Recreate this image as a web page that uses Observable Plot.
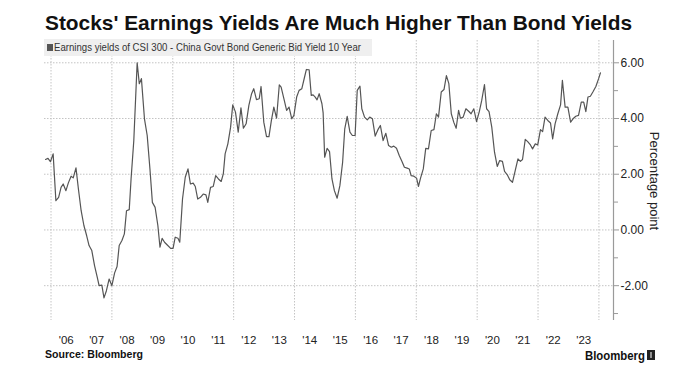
<!DOCTYPE html>
<html>
<head>
<meta charset="utf-8">
<script src="https://cdn.jsdelivr.net/npm/d3@7"></script>
<script src="https://cdn.jsdelivr.net/npm/@observablehq/plot@0.6"></script>
<style>
  html, body { margin: 0; padding: 0; background: #fff; }
  #wrap { position: relative; width: 690px; height: 384px; overflow: hidden; }
  #overlay { position: absolute; left: 0; top: 0; pointer-events: none; }
</style>
</head>
<body>
<div id="wrap"></div>
<script>
// Decimal-year dates of the series
const dates = [
  2005.82, 2005.90, 2005.98, 2006.07, 2006.16, 2006.25, 2006.33, 2006.40, 2006.49, 2006.57,
  2006.66, 2006.73, 2006.82, 2006.90, 2006.99, 2007.08, 2007.17, 2007.25, 2007.34, 2007.43,
  2007.52, 2007.58, 2007.67, 2007.74, 2007.82, 2007.91, 2008.00, 2008.09, 2008.17, 2008.24,
  2008.33, 2008.41, 2008.48, 2008.57, 2008.63, 2008.72, 2008.83, 2008.90, 2008.97, 2009.07,
  2009.16, 2009.25, 2009.33, 2009.42, 2009.51, 2009.58, 2009.65, 2009.73, 2009.82, 2009.93,
  2010.01, 2010.08, 2010.17, 2010.23, 2010.32, 2010.41, 2010.50, 2010.58, 2010.67, 2010.74,
  2010.82, 2010.91, 2011.00, 2011.09, 2011.15, 2011.24, 2011.33, 2011.41, 2011.50, 2011.59,
  2011.66, 2011.72, 2011.81, 2011.90, 2011.97, 2012.06, 2012.15, 2012.24, 2012.32, 2012.41,
  2012.50, 2012.59, 2012.66, 2012.75, 2012.84, 2012.90, 2012.99, 2013.08, 2013.16, 2013.24,
  2013.32, 2013.41, 2013.50, 2013.56, 2013.65, 2013.74, 2013.82, 2013.91, 2013.98, 2014.07,
  2014.15, 2014.24, 2014.33, 2014.39, 2014.48, 2014.55, 2014.61, 2014.68, 2014.74, 2014.81,
  2014.90, 2014.94, 2014.99, 2015.07, 2015.15, 2015.23, 2015.31, 2015.40, 2015.49, 2015.58,
  2015.65, 2015.73, 2015.82, 2015.90, 2015.99, 2016.06, 2016.15, 2016.21, 2016.30, 2016.39,
  2016.47, 2016.56, 2016.65, 2016.74, 2016.82, 2016.91, 2017.00, 2017.09, 2017.18, 2017.26,
  2017.35, 2017.44, 2017.53, 2017.61, 2017.70, 2017.77, 2017.83, 2017.92, 2018.01, 2018.07,
  2018.14, 2018.23, 2018.31, 2018.40, 2018.49, 2018.58, 2018.66, 2018.73, 2018.82, 2018.91,
  2018.99, 2019.07, 2019.15, 2019.23, 2019.31, 2019.39, 2019.45, 2019.54, 2019.63, 2019.72,
  2019.80, 2019.89, 2019.98, 2020.07, 2020.15, 2020.24, 2020.31, 2020.39, 2020.48, 2020.57,
  2020.66, 2020.74, 2020.83, 2020.90, 2020.99, 2021.07, 2021.16, 2021.25, 2021.34, 2021.42,
  2021.49, 2021.58, 2021.66, 2021.75, 2021.82, 2021.91, 2021.99, 2022.08, 2022.15, 2022.23,
  2022.32, 2022.41, 2022.48, 2022.56, 2022.65, 2022.74, 2022.80, 2022.89, 2022.98, 2023.07,
  2023.15, 2023.24, 2023.33, 2023.42, 2023.50, 2023.57, 2023.64, 2023.72, 2023.81, 2023.90,
  2023.99, 2024.05
];
// Earnings yield of CSI 300 minus China 10Y govt bond yield (percentage points)
const values = [
  2.53, 2.57, 2.45, 2.73, 1.05, 1.17, 1.53, 1.65, 1.41, 1.69,
  1.93, 1.87, 2.23, 1.47, 0.69, 0.16, -0.20, -0.56, -0.74, -1.28,
  -1.70, -2.00, -1.98, -2.44, -2.18, -1.76, -2.00, -1.54, -1.31, -0.56,
  -0.38, -0.14, 0.69, 0.73, 1.83, 3.21, 6.00, 5.25, 5.43, 3.99,
  3.39, 2.19, 0.99, 0.81, 0.16, -0.62, -0.30, -0.44, -0.54, -0.66,
  -0.66, -0.26, -0.30, -0.44, 1.11, 1.89, 2.19, 1.65, 1.68, 1.56,
  1.11, 1.17, 1.29, 1.26, 0.99, 1.53, 1.56, 1.95, 1.83, 1.74,
  2.01, 2.73, 3.09, 3.69, 4.49, 4.23, 3.51, 4.38, 3.65, 3.81,
  4.47, 4.89, 5.07, 4.68, 4.71, 5.15, 3.87, 3.35, 3.35, 3.93,
  4.41, 4.01, 5.21, 5.13, 4.71, 4.29, 4.41, 3.99, 4.11, 4.77,
  5.01, 5.07, 5.49, 5.76, 5.75, 4.83, 4.85, 4.77, 4.67, 4.89,
  4.53, 4.20, 2.61, 2.93, 2.81, 1.83, 1.41, 1.14, 1.59, 2.43,
  3.63, 4.08, 3.51, 3.39, 3.39, 5.01, 5.16, 4.35, 4.05, 3.95,
  4.05, 3.99, 3.37, 3.60, 3.75, 3.21, 3.47, 3.03, 2.97, 3.01,
  2.93, 2.67, 2.46, 2.25, 2.22, 2.19, 1.95, 1.93, 1.86, 1.56,
  1.86, 2.19, 2.93, 2.91, 3.57, 3.60, 4.17, 4.05, 4.95, 5.04,
  5.54, 5.25, 4.17, 3.87, 3.65, 4.29, 4.01, 4.05, 4.35, 4.26,
  4.17, 4.35, 3.89, 4.25, 4.65, 5.22, 4.35, 4.25, 3.69, 2.79,
  2.28, 2.49, 2.46, 2.10, 1.98, 1.80, 1.71, 2.13, 2.55, 2.46,
  2.53, 3.25, 3.17, 3.05, 2.91, 3.09, 3.05, 3.60, 3.53, 4.05,
  3.93, 3.84, 3.27, 3.81, 4.17, 4.49, 5.37, 4.41, 4.41, 3.87,
  3.99, 4.08, 4.11, 4.59, 4.59, 4.25, 4.77, 4.80, 4.97, 5.15,
  5.43, 5.64
];
// Axis ticks and labels
const labelYears = [2006,2007,2008,2009,2010,2011,2012,2013,2014,2015,2016,2017,2018,2019,2020,2021,2022,2023];
const yearLabels = ["'06","'07","'08","'09","'10","'11","'12","'13","'14","'15","'16","'17","'18","'19","'20","'21","'22","'23"];
const gridYears = [2006,2008,2010,2012,2014,2016,2018,2020,2022,2024];
const majorTicks = [6, 4, 2, 0, -2];
const minorTicks = [5, 3, 1, -1, -3];
const xDomain = [2005.786, 2024.479];
const yDomain = [-3.25, 6.8];

const title = "Stocks' Earnings Yields Are Much Higher Than Bond Yields";
const legendText = "Earnings yields of CSI 300 - China Govt Bond Generic Bid Yield 10 Year";
const axisTitle = "Percentage point";
const sourceText = "Source: Bloomberg";

const data = dates.map((d, i) => ({date: d, value: values[i]}));
const labelPos = labelYears.map(y => y + 0.5);
const labelMap = new Map(labelPos.map((p, i) => [p, yearLabels[i]]));

const FONT = "'Liberation Sans', Arial, sans-serif";

const chart = Plot.plot({
  width: 690,
  height: 384,
  marginTop: 40,
  marginBottom: 64,
  marginLeft: 44,
  marginRight: 77,
  x: {type: "linear", domain: xDomain},
  y: {domain: yDomain},
  style: {fontFamily: FONT, fontSize: "12px", color: "#222", background: "#fff", overflow: "visible"},
  marks: [
    Plot.gridY(majorTicks, {stroke: "#c4c4c4", strokeOpacity: 1, strokeDasharray: "1.5,1.5"}),
    Plot.gridX(gridYears, {stroke: "#c4c4c4", strokeOpacity: 1, strokeDasharray: "1.5,1.5"}),
    Plot.ruleX([xDomain[1]], {stroke: "#9a9a9a", strokeWidth: 1.2}),
    Plot.axisY(majorTicks, {anchor: "right", tickSize: 5, tickPadding: 2, stroke: "#9a9a9a",
      fill: "#222", tickFormat: d => d.toFixed(2), label: null, fontSize: 12}),
    Plot.axisY(minorTicks, {anchor: "right", tickSize: 4, stroke: "#9a9a9a", tickFormat: () => "", label: null}),
    Plot.axisX(labelPos, {anchor: "bottom", tickSize: 0, tickPadding: 15, fill: "#222",
      tickFormat: d => labelMap.get(d), label: null, fontSize: 11.5}),
    Plot.line(data, {x: "date", y: "value", stroke: "#555", strokeWidth: 1.2})
  ]
});

const wrap = document.getElementById("wrap");
wrap.appendChild(chart);

// Overlay: title, legend, axis title, source, logo
const ns = "http://www.w3.org/2000/svg";
const ov = document.createElementNS(ns, "svg");
ov.setAttribute("id", "overlay");
ov.setAttribute("width", 690);
ov.setAttribute("height", 384);
function el(tag, attrs, text) {
  const e = document.createElementNS(ns, tag);
  for (const k in attrs) e.setAttribute(k, attrs[k]);
  if (text != null) e.textContent = text;
  ov.appendChild(e);
  return e;
}
el("text", {x: 45, y: 30, "font-family": FONT, "font-weight": "bold", "font-size": 21, fill: "#111",
  textLength: 587, lengthAdjust: "spacingAndGlyphs"}, title);
el("rect", {x: 44, y: 39, width: 328, height: 17, fill: "#efefef"});
el("rect", {x: 47, y: 44, width: 6, height: 7, fill: "#555"});
el("text", {x: 54, y: 51, "font-family": FONT, "font-size": 10, fill: "#333",
  textLength: 307, lengthAdjust: "spacingAndGlyphs"}, legendText);
el("text", {x: 654, y: 181, "font-family": FONT, "font-size": 13, fill: "#222", "text-anchor": "middle",
  "dominant-baseline": "central", transform: "rotate(90 654 181)"}, axisTitle);
el("text", {x: 45, y: 358, "font-family": FONT, "font-weight": "bold", "font-size": 10, fill: "#111",
  textLength: 98, lengthAdjust: "spacingAndGlyphs"}, sourceText);
el("text", {x: 585, y: 360, "font-family": FONT, "font-weight": "bold", "font-size": 13.5, fill: "#111",
  textLength: 60, lengthAdjust: "spacingAndGlyphs"}, "Bloomberg");
el("rect", {x: 647, y: 350, width: 8, height: 10, fill: "#222"});
el("rect", {x: 650.5, y: 352, width: 1, height: 6, fill: "#fff"});
wrap.appendChild(ov);
</script>
</body>
</html>
